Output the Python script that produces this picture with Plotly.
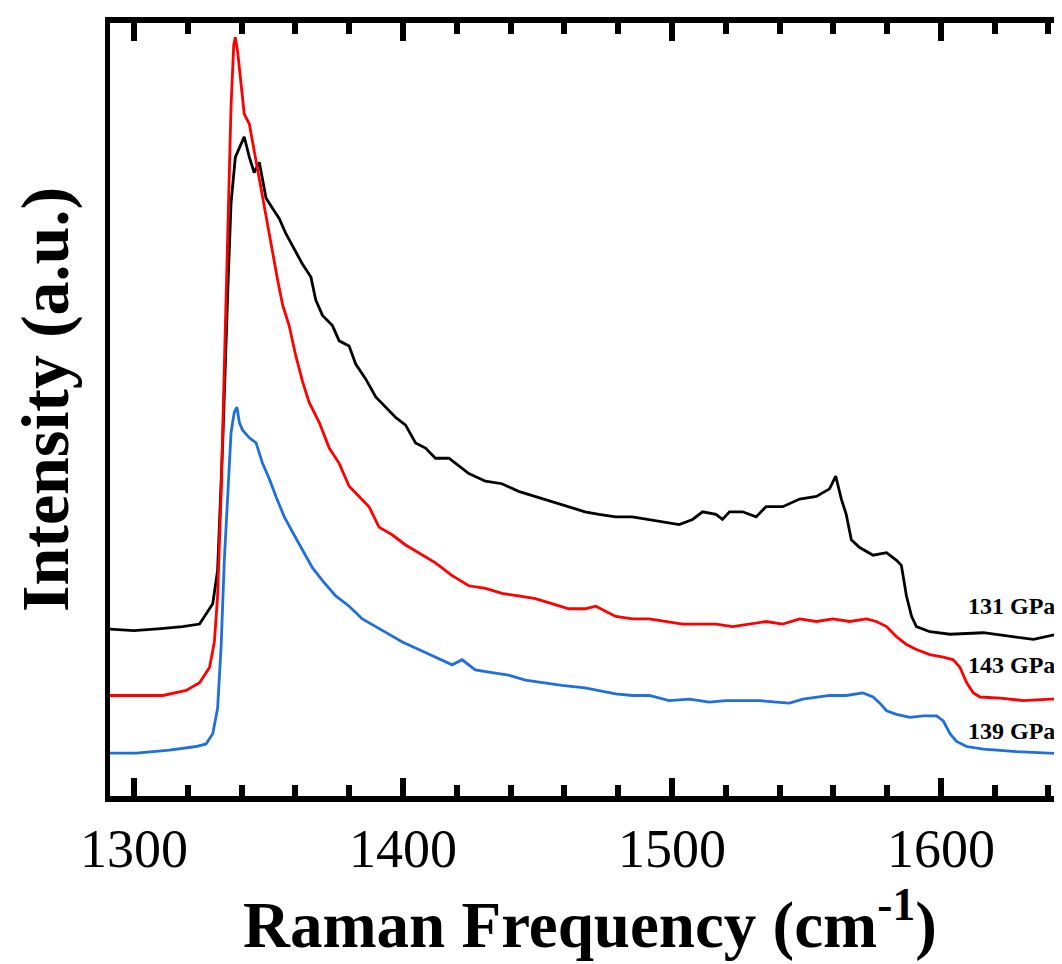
import plotly.graph_objects as go

# ---------------- data ----------------
wavenumber_131 = [1291, 1300, 1310, 1318, 1324.4, 1329.3, 1331.1, 1333, 1334.9, 1336.1, 1337.7, 1339.2, 1341,
                  1342.9, 1344.7, 1346.6, 1349.1, 1351.5, 1354, 1356.5, 1359.6, 1362.7, 1365.8, 1367.6, 1370.1,
                  1373.8, 1376.3, 1380, 1382.4, 1386.2, 1389.9, 1393.6, 1397.3, 1401, 1404.7, 1408.4, 1412.1,
                  1417.1, 1420.8, 1424.5, 1430.7, 1436.8, 1443, 1449.2, 1455.4, 1461.6, 1467.7, 1472.9, 1479.1,
                  1485.3, 1491.6, 1497.8, 1502.7, 1507.7, 1511.4, 1516.4, 1518.8, 1521.4, 1526.3, 1531.3, 1535,
                  1541.2, 1547.5, 1553.7, 1558.6, 1560.9, 1563, 1564.8, 1566.7, 1569.8, 1574.8, 1579.8, 1583.5,
                  1585.3, 1587.2, 1589.1, 1590.9, 1595.9, 1603.4, 1615.8, 1628.2, 1634.4, 1643.1, 1648]
intensity_131 = [333, 330, 334, 338, 343, 383, 448, 698, 998, 1168, 1258, 1278, 1298, 1258, 1228, 1248, 1178,
                 1158, 1138, 1108, 1078, 1048, 1023, 978, 948, 928, 898, 888, 853, 823, 788, 768, 748, 733, 698,
                 688, 668, 668, 653, 638, 623, 618, 603, 593, 583, 573, 563, 558, 553, 553, 548, 543, 538, 548,
                 563, 558, 548, 563, 563, 553, 573, 573, 588, 593, 608, 633, 588, 558, 508, 493, 478, 483, 468,
                 458, 398, 358, 338, 328, 323, 326, 318, 313, 323, 316]

wavenumber_143 = [1290.4, 1300.9, 1310.8, 1319.4, 1324.4, 1328.1, 1329.9, 1331.1, 1332.4, 1333.6, 1334.9, 1336.1,
                  1337.1, 1337.7, 1338.6, 1339.8, 1341, 1342.9, 1344.1, 1346, 1347.8, 1349.7, 1351.5, 1353.4,
                  1355.3, 1357.7, 1360.2, 1362.7, 1365.1, 1368.9, 1372.6, 1376.3, 1380, 1383.7, 1387.4, 1391.1,
                  1396, 1401, 1405.9, 1412.1, 1418.3, 1424.5, 1430.7, 1436.8, 1443, 1449.2, 1455.4, 1461.6, 1467.7,
                  1471.7, 1479.1, 1485.3, 1491.6, 1497.8, 1504, 1510.2, 1516.4, 1522.6, 1528.8, 1535, 1541.2,
                  1547.5, 1553.7, 1559.9, 1566.1, 1572.3, 1576, 1579.8, 1583.5, 1587.2, 1590.9, 1595.9, 1600.9,
                  1604.6, 1607.1, 1609.6, 1612.1, 1614.5, 1622, 1630.7, 1640.6, 1648]
intensity_143 = [203, 203, 203, 213, 228, 258, 308, 398, 598, 848, 1128, 1358, 1478, 1493, 1463, 1408, 1343,
                 1323, 1288, 1228, 1178, 1118, 1068, 1018, 968, 928, 868, 818, 778, 738, 688, 658, 613, 593, 573,
                 533, 518, 498, 483, 463, 438, 418, 413, 403, 398, 393, 383, 373, 373, 378, 358, 353, 353, 348,
                 343, 343, 343, 338, 343, 348, 343, 353, 348, 353, 348, 353, 348, 338, 318, 303, 293, 283, 278,
                 273, 258, 228, 208, 200, 198, 193, 196, 196]

wavenumber_139 = [1290.4, 1300.9, 1313.2, 1323.1, 1326.8, 1329.3, 1331.1, 1332.4, 1333.6, 1334.9, 1336.1, 1337.3,
                  1338.3, 1339.2, 1340.4, 1342.9, 1345.4, 1347.8, 1350.3, 1352.8, 1355.9, 1359, 1362.7, 1366.4,
                  1370.1, 1375, 1380, 1384.9, 1389.9, 1394.8, 1399.8, 1405.9, 1412.1, 1418.3, 1422, 1426.9, 1433.1,
                  1439.3, 1445.5, 1451.6, 1459.1, 1467.7, 1472.9, 1479.1, 1485.3, 1491.6, 1499, 1506.5, 1513.9,
                  1520.1, 1526.3, 1532.5, 1538.8, 1543.7, 1548.7, 1553.7, 1558.6, 1564.8, 1571, 1574.8, 1577.3,
                  1579.8, 1583.5, 1588.5, 1593.4, 1598.4, 1600.9, 1603.4, 1605.8, 1609.6, 1615.8, 1628.2, 1640.6, 1648]
intensity_139 = [90, 90, 96, 103, 108, 128, 178, 298, 468, 598, 718, 758, 768, 738, 723, 708, 698, 658, 628, 593,
                 553, 523, 488, 453, 428, 398, 378, 353, 338, 323, 308, 293, 278, 263, 273, 253, 248, 243, 233,
                 228, 223, 218, 213, 206, 203, 203, 193, 196, 190, 193, 193, 193, 190, 188, 196, 200, 203, 203,
                 208, 200, 188, 173, 166, 160, 163, 163, 153, 128, 113, 103, 98, 93, 90, 88]

series_labels = ["131 GPa", "143 GPa", "139 GPa"]
label_x = [1609.3, 1609.3, 1609.3]
label_y = [378, 263, 133]
x_tick_values = [1300, 1400, 1500, 1600]
x_tick_text = ["1300", "1400", "1500", "1600"]

# ---------------- figure ----------------
SERIF = "Liberation Serif, Times New Roman, serif"
colors = ["#000000", "#ff0000", "#1f6fdc"]

fig = go.Figure()
for xs, ys, name, c in [(wavenumber_131, intensity_131, series_labels[0], colors[0]),
                        (wavenumber_143, intensity_143, series_labels[1], colors[1]),
                        (wavenumber_139, intensity_139, series_labels[2], colors[2])]:
    fig.add_trace(go.Scatter(x=xs, y=ys, mode="lines", name=name,
                             line=dict(color=c, width=2.8), showlegend=False))

for txt, lx, ly in zip(series_labels, label_x, label_y):
    fig.add_annotation(x=lx, y=ly, xref="x", yref="y", text="<b>" + txt + "</b>",
                       showarrow=False, xanchor="left", yanchor="middle",
                       font=dict(family=SERIF, size=24, color="black"))

# axis titles as annotations for precise placement
fig.add_annotation(x=0.5, y=(788 - 912) / 773, xref="paper", yref="paper",
                   text="<b>Raman Frequency (cm<sup>-1</sup>)</b>", showarrow=False,
                   xanchor="center", yanchor="middle",
                   font=dict(family=SERIF, size=65, color="black"))
fig.add_annotation(x=(37 - 102) / 960, y=(788 - 392) / 773, xref="paper", yref="paper",
                   text="<b>Intensity (a.u.)</b>", showarrow=False, textangle=-90,
                   xanchor="center", yanchor="middle",
                   font=dict(family=SERIF, size=68, color="black"))

fig.update_layout(
    width=1062, height=964,
    margin=dict(l=102, r=0, t=15, b=176),
    paper_bgcolor="white", plot_bgcolor="white",
    xaxis=dict(range=[1291.1, 1648], showgrid=False, zeroline=False,
               showline=True, linewidth=6, linecolor="black", mirror="ticks",
               ticks="inside", ticklen=18, tickwidth=6, tickcolor="black",
               tickvals=x_tick_values, ticktext=x_tick_text,
               tickfont=dict(family=SERIF, size=54, color="black"),
               minor=dict(dtick=20, tick0=1300, ticks="inside", ticklen=11, tickwidth=6,
                          tickcolor="black", showgrid=False)),
    yaxis=dict(range=[6, 1521], showgrid=False, zeroline=False,
               showline=True, linewidth=5, linecolor="black", mirror=False,
               ticks="", showticklabels=False),
)

fig.write_html("out.html")
